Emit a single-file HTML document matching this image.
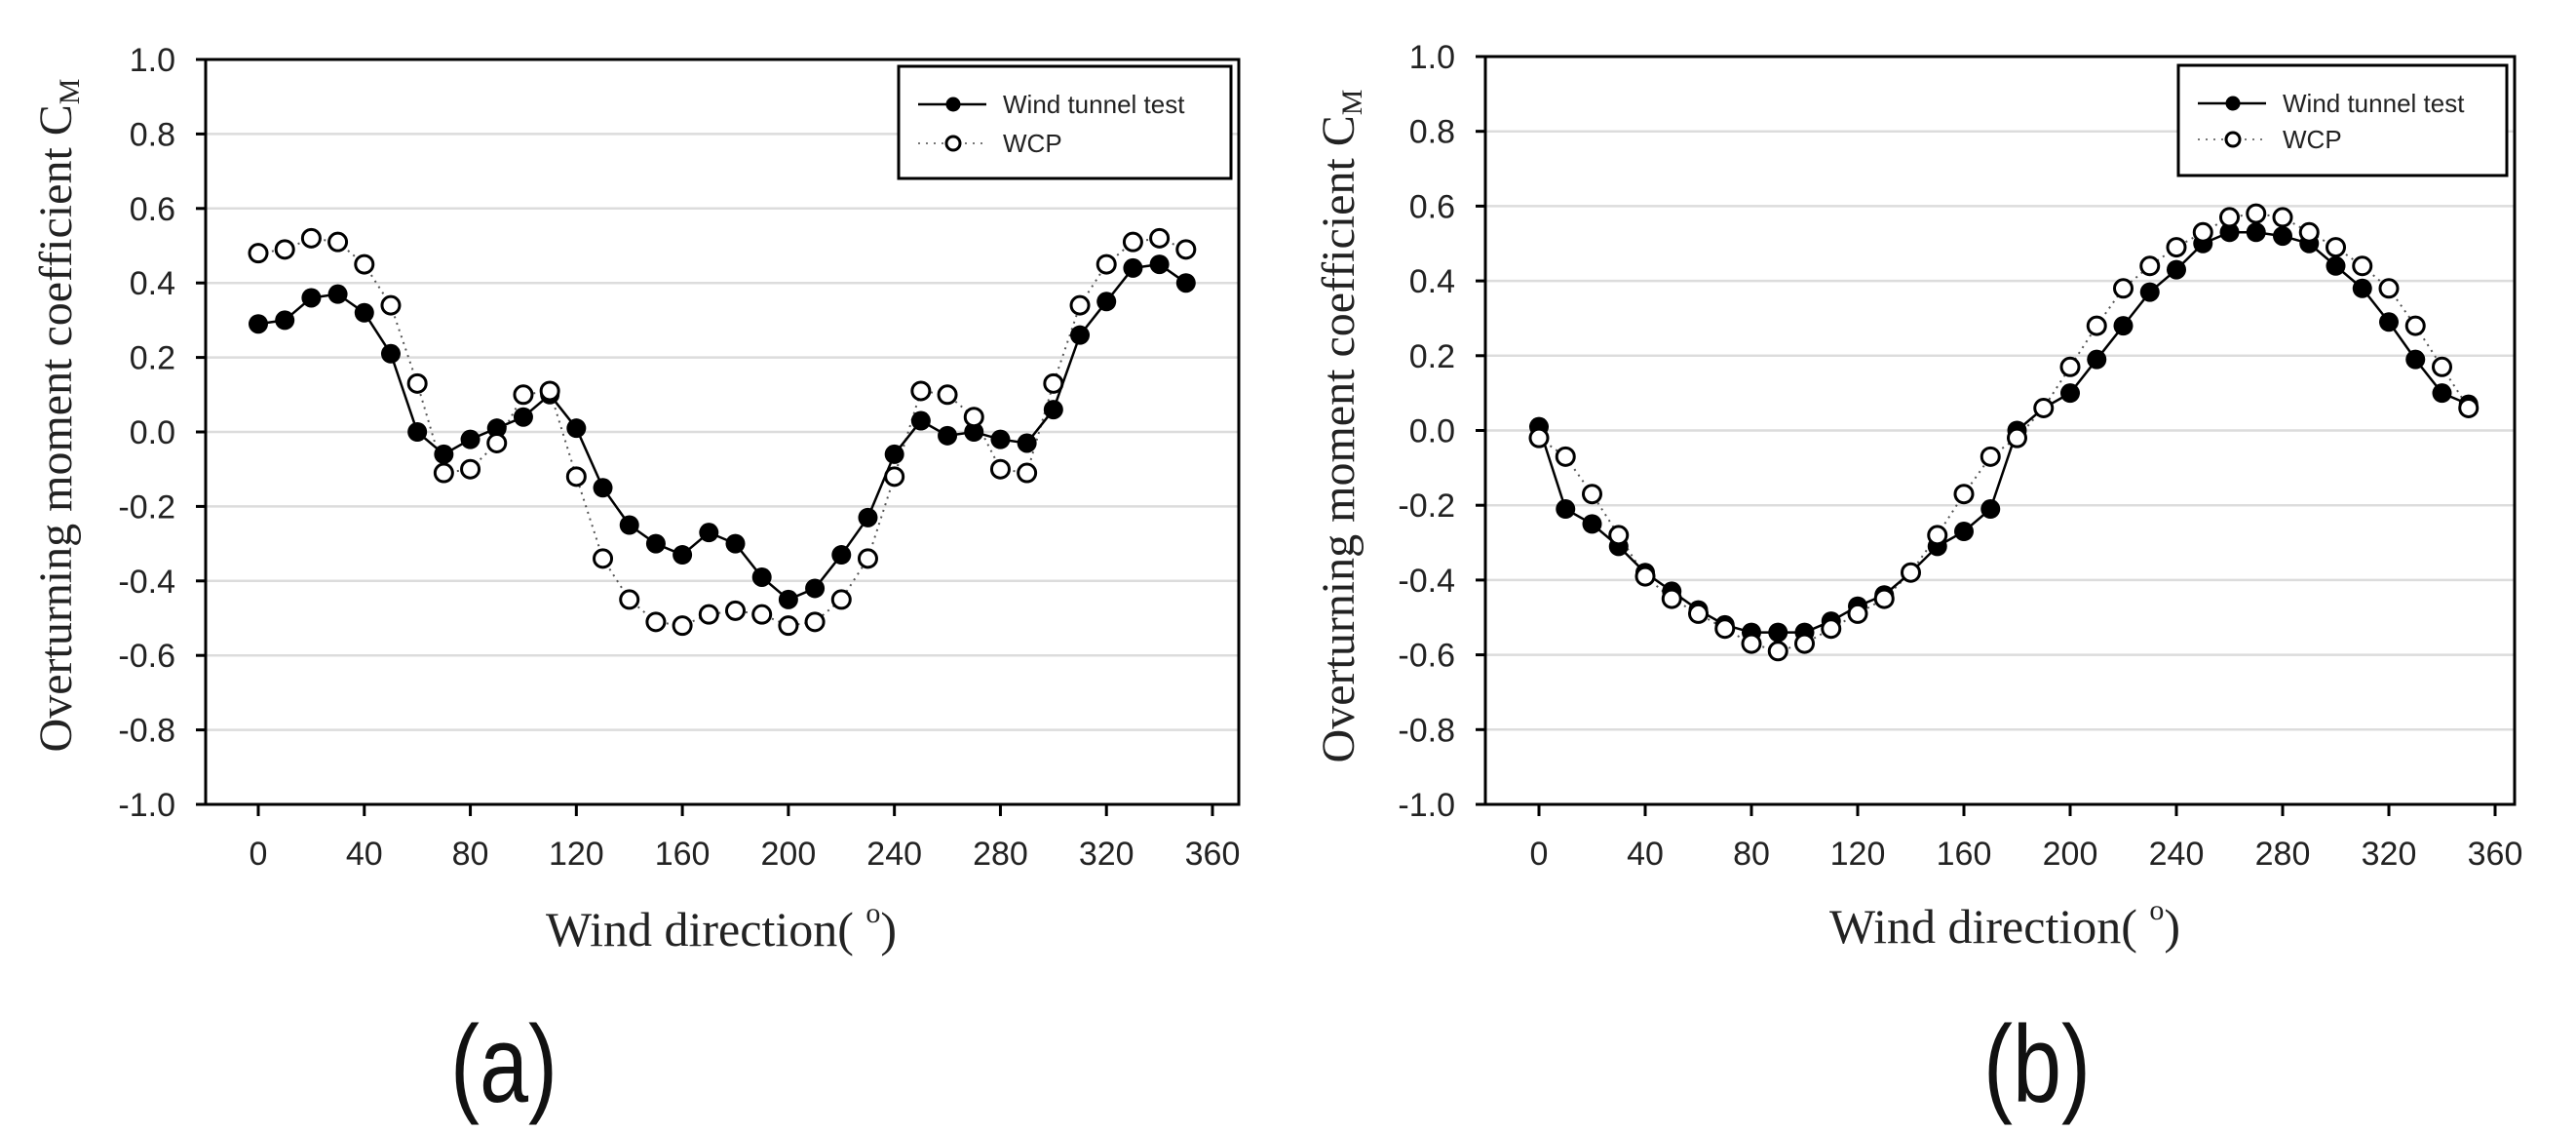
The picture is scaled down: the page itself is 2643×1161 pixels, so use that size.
<!DOCTYPE html>
<html><head><meta charset="utf-8"><style>
html,body{margin:0;padding:0;background:#fff;}
svg{display:block;}
</style></head><body>
<svg id="fig" width="2643" height="1161" viewBox="0 0 2643 1161" xmlns="http://www.w3.org/2000/svg"></svg>
<script>
const directions = [0,10,20,30,40,50,60,70,80,90,100,110,120,130,140,150,160,170,180,190,200,210,220,230,240,250,260,270,280,290,300,310,320,330,340,350];
const windTunnelA = [0.29,0.30,0.36,0.37,0.32,0.21,0.00,-0.06,-0.02,0.01,0.04,0.10,0.01,-0.15,-0.25,-0.30,-0.33,-0.27,-0.30,-0.39,-0.45,-0.42,-0.33,-0.23,-0.06,0.03,-0.01,0.00,-0.02,-0.03,0.06,0.26,0.35,0.44,0.45,0.40];
const wcpA = [0.48,0.49,0.52,0.51,0.45,0.34,0.13,-0.11,-0.10,-0.03,0.10,0.11,-0.12,-0.34,-0.45,-0.51,-0.52,-0.49,-0.48,-0.49,-0.52,-0.51,-0.45,-0.34,-0.12,0.11,0.10,0.04,-0.10,-0.11,0.13,0.34,0.45,0.51,0.52,0.49];
const windTunnelB = [0.01,-0.21,-0.25,-0.31,-0.38,-0.43,-0.48,-0.52,-0.54,-0.54,-0.54,-0.51,-0.47,-0.44,-0.38,-0.31,-0.27,-0.21,0.00,0.06,0.10,0.19,0.28,0.37,0.43,0.50,0.53,0.53,0.52,0.50,0.44,0.38,0.29,0.19,0.10,0.07];
const wcpB = [-0.02,-0.07,-0.17,-0.28,-0.39,-0.45,-0.49,-0.53,-0.57,-0.59,-0.57,-0.53,-0.49,-0.45,-0.38,-0.28,-0.17,-0.07,-0.02,0.06,0.17,0.28,0.38,0.44,0.49,0.53,0.57,0.58,0.57,0.53,0.49,0.44,0.38,0.28,0.17,0.06];
const xTicks = [0,40,80,120,160,200,240,280,320,360];
const yTicks = [1.0,0.8,0.6,0.4,0.2,0.0,-0.2,-0.4,-0.6,-0.8,-1.0];
const legendLabels = ["Wind tunnel test","WCP"];

const NS="http://www.w3.org/2000/svg";
const svg=document.getElementById('fig');
function mk(tag,attrs,parent,text){const e=document.createElementNS(NS,tag);for(const k in attrs)e.setAttribute(k,attrs[k]);if(text!==undefined)e.textContent=text;(parent||svg).appendChild(e);return e;}

const panels=[
 {id:'a',L:211,R:1271,T:61,B:825,x0:265,x360:1244,ylabR:180,leg:[922,68,1263,183],lineY:[107,147],ytx:59,yty:426,xtx:740,xty:970,lblx:517,wt:windTunnelA,wcp:wcpA},
 {id:'b',L:1524,R:2580,T:58,B:825,x0:1579,x360:2560,ylabR:1493,leg:[2235,67,2572,180],lineY:[106,143],ytx:1375,yty:437,xtx:2057,xty:967,lblx:2090,wt:windTunnelB,wcp:wcpB}
];
panels.forEach(p=>{
 const g=mk('g',{});
 
 
 const xs=v=>p.x0+(v/360)*(p.x360-p.x0);
 const ys=v=>p.B-(v+1)/2*(p.B-p.T);
 yTicks.forEach(t=>{ if(t<1&&t>-1){const l=mk('line',{x1:p.L,x2:p.R,y1:ys(t),y2:ys(t),stroke:'#dcdcdc','stroke-width':2.5},g);
  }});
 const fr=mk('rect',{x:p.L,y:ys(1),width:p.R-p.L,height:p.B-ys(1),fill:'none',stroke:'#000','stroke-width':3},g);
 
 yTicks.forEach(t=>{const y=ys(t);
  mk('line',{x1:p.L-10,x2:p.L,y1:y,y2:y,stroke:'#000','stroke-width':3},g);
  const tx=mk('text',{x:p.ylabR,y:y+12,'text-anchor':'end','font-family':'Liberation Sans, sans-serif','font-size':34,fill:'#222'},g,t.toFixed(1));
  });
 xTicks.forEach(t=>{const x=xs(t);
  mk('line',{x1:x,x2:x,y1:p.B,y2:p.B+12,stroke:'#000','stroke-width':3},g);
  const tx=mk('text',{x:x,y:887,'text-anchor':'middle','font-family':'Liberation Sans, sans-serif','font-size':34,fill:'#222'},g,String(t));
  });
 const wtPts=directions.map((d,i)=>xs(d)+','+ys(p.wt[i])).join(' ');
 const wcpPts=directions.map((d,i)=>xs(d)+','+ys(p.wcp[i])).join(' ');
 const l2=mk('polyline',{points:wcpPts,fill:'none',stroke:'#555','stroke-width':2,'stroke-dasharray':'2 5'},g);
 
 const l1=mk('polyline',{points:wtPts,fill:'none',stroke:'#000','stroke-width':2.5},g);
 
 directions.forEach((d,i)=>{
  const c=mk('circle',{cx:xs(d),cy:ys(p.wt[i]),r:10,fill:'#000'},g);
  });
 directions.forEach((d,i)=>{
  const c=mk('circle',{cx:xs(d),cy:ys(p.wcp[i]),r:9,fill:'#fff',stroke:'#000','stroke-width':3},g);
  });
 const [lx1,ly1,lx2,ly2]=p.leg;
 const lg=mk('g',{},g);
 
 mk('rect',{x:lx1,y:ly1,width:lx2-lx1,height:ly2-ly1,fill:'#fff',stroke:'#000','stroke-width':3},lg);
 const mx=lx1+56;
 mk('line',{x1:lx1+20,x2:lx1+90,y1:p.lineY[0],y2:p.lineY[0],stroke:'#000','stroke-width':2.5},lg);
 mk('circle',{cx:mx,cy:p.lineY[0],r:7.5,fill:'#000'},lg);
 mk('line',{x1:lx1+20,x2:lx1+90,y1:p.lineY[1],y2:p.lineY[1],stroke:'#777','stroke-width':2,'stroke-dasharray':'2 6'},lg);
 mk('circle',{cx:mx,cy:p.lineY[1],r:7,fill:'#fff',stroke:'#000','stroke-width':3},lg);
 legendLabels.forEach((s,i)=>{const t=mk('text',{x:lx1+107,y:p.lineY[i]+9,'font-family':'Liberation Sans, sans-serif','font-size':26,fill:'#222'},lg,s);
  });
 const yt=mk('text',{x:0,y:0,transform:`translate(${p.ytx+14},${p.yty}) rotate(-90)`,'text-anchor':'middle','font-family':'Liberation Serif, serif','font-size':48,fill:'#222'},g);
 
 mk('tspan',{},yt,'Overturning moment coefficient C');
 mk('tspan',{'font-size':30,dy:8},yt,'M');
 const xt=mk('text',{x:p.xtx,y:p.xty,'text-anchor':'middle','font-family':'Liberation Serif, serif','font-size':50,fill:'#222'},g);
 
 mk('tspan',{},xt,'Wind direction( ');
 mk('tspan',{'font-size':30,dy:-24},xt,'o');
 mk('tspan',{dy:24},xt,')');
 const lb=mk('text',{x:p.lblx-55,y:1130,'font-family':'Liberation Sans, sans-serif','font-size':112,fill:'#111',textLength:110,lengthAdjust:'spacingAndGlyphs'},g,'('+p.id+')');
 
});
</script>
</body></html>
